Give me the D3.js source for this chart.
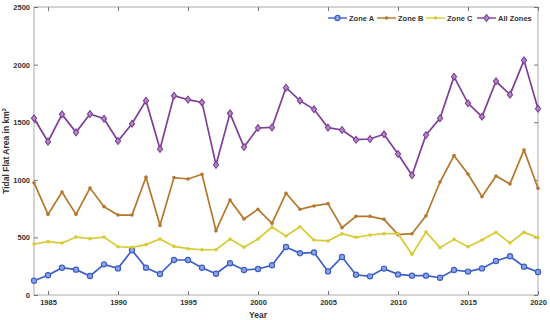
<!DOCTYPE html>
<html>
<head>
<meta charset="utf-8">
<script src="https://cdn.jsdelivr.net/npm/d3@7"></script>
<style>
  body { margin: 0; background: #fff; }
  svg text { font-family: "Liberation Sans", Arial, sans-serif; font-weight: bold; fill: #333; }
</style>
</head>
<body>
<svg id="chart" width="550" height="320"></svg>
<script>
// values, km^2
var years = d3.range(1984, 2021);
var zoneA = [124, 171, 237, 220, 165, 266, 231, 388, 237, 182, 304, 304, 237, 185, 275, 217, 226, 258,
  417, 362, 370, 205, 330, 176, 162, 229, 179, 168, 168, 150, 217, 203, 231, 295, 336, 246, 200];
var zoneB = [975, 700, 894, 700, 929, 767, 694, 694, 1022, 605, 1019, 1007, 1048, 558, 825, 660, 744, 622,
  883, 744, 773, 793, 584, 683, 683, 657, 524, 532, 688, 981, 1210, 1050, 853, 1033, 964, 1259, 926];
var zoneC = [443, 463, 451, 503, 489, 503, 419, 414, 437, 486, 422, 402, 393, 393, 486, 414, 486, 590,
  512, 593, 477, 469, 532, 501, 521, 532, 532, 353, 547, 411, 483, 419, 477, 544, 451, 544, 498];
var allZones = [1534, 1331, 1568, 1412, 1571, 1530, 1337, 1487, 1687, 1267, 1730, 1696, 1672, 1130, 1577, 1285, 1450, 1455,
  1800, 1687, 1612, 1453, 1432, 1348, 1354, 1395, 1224, 1039, 1389, 1534, 1895, 1664, 1548, 1855, 1739, 2037, 1617];
var xTicks = [1985, 1990, 1995, 2000, 2005, 2010, 2015, 2020];
var yTicks = [0, 500, 1000, 1500, 2000, 2500];

var series = [
  { name: 'Zone A', vals: zoneA, color: '#3c5fc6', marker: 'circle' },
  { name: 'Zone B', vals: zoneB, color: '#b5772c', marker: 'dot' },
  { name: 'Zone C', vals: zoneC, color: '#d8cb36', marker: 'dot' },
  { name: 'All Zones', vals: allZones, color: '#7e3f98', marker: 'diamond' }
];

var margin = { top: 7, right: 12, bottom: 25, left: 34 };
var svg = d3.select('#chart');
var width = 550 - margin.left - margin.right;
var height = 320 - margin.top - margin.bottom;

var x = d3.scaleLinear().domain([1984, 2020]).range([0, width]);
var y = d3.scaleLinear().domain([0, 2500]).range([height, 0]);

var g = svg.append('g')
  .attr('transform', 'translate(' + margin.left + ',' + margin.top + ')');

// box
g.append('rect')
  .attr('width', width).attr('height', height)
  .attr('fill', 'none').attr('stroke', '#aaa').attr('stroke-width', 1);

function styleAxis(sel) {
  sel.select('.domain').remove();
  sel.selectAll('line').attr('stroke', '#777');
  sel.selectAll('text').attr('font-size', 7.5).style('fill', '#333');
}

g.append('g')
  .attr('transform', 'translate(0,' + height + ')')
  .call(d3.axisBottom(x).tickValues(xTicks).tickFormat(d3.format('d')).tickSizeInner(-4).tickPadding(5))
  .call(styleAxis);
g.append('g')
  .call(d3.axisTop(x).tickValues(xTicks).tickFormat('').tickSizeInner(-4))
  .call(styleAxis);
g.append('g')
  .call(d3.axisLeft(y).tickValues(yTicks).tickFormat(d3.format('d')).tickSizeInner(-4).tickPadding(4))
  .call(styleAxis);
g.append('g')
  .attr('transform', 'translate(' + width + ',0)')
  .call(d3.axisRight(y).tickValues(yTicks).tickFormat('').tickSizeInner(-4))
  .call(styleAxis);

var line = d3.line()
  .x(function(d, i) { return x(years[i]); })
  .y(function(d) { return y(d); });

function drawMarker(sel, s, cx, cy) {
  if (s.marker === 'circle') {
    sel.append('circle').attr('cx', cx).attr('cy', cy).attr('r', 2.6)
      .attr('fill', '#8fa4e4').attr('stroke', s.color).attr('stroke-width', 1.2);
  } else if (s.marker === 'diamond') {
    sel.append('path')
      .attr('d', 'M' + cx + ',' + (cy - 3.4) + 'L' + (cx + 2.6) + ',' + cy + 'L' + cx + ',' + (cy + 3.4) + 'L' + (cx - 2.6) + ',' + cy + 'Z')
      .attr('fill', '#b48ac4').attr('stroke', s.color).attr('stroke-width', 1.1);
  } else {
    sel.append('circle').attr('cx', cx).attr('cy', cy).attr('r', 1.8).attr('fill', s.color);
  }
}

series.forEach(function(s) {
  var sg = g.append('g');
  sg.append('path')
    .datum(s.vals)
    .attr('d', line)
    .attr('fill', 'none')
    .attr('stroke', s.color)
    .attr('stroke-width', 1.7);
  s.vals.forEach(function(v, i) {
    drawMarker(sg, s, x(years[i]), y(v));
  });
});

// legend
var legendX = [294, 343, 392, 443];
var lg = g.append('g').attr('transform', 'translate(0,11)');
series.forEach(function(s, i) {
  var lx = legendX[i];
  lg.append('line').attr('x1', lx).attr('x2', lx + 19).attr('y1', 0).attr('y2', 0)
    .attr('stroke', s.color).attr('stroke-width', 1.4);
  drawMarker(lg, s, lx + 9.5, 0);
  lg.append('text').attr('x', lx + 21).attr('y', 2.7).attr('font-size', 7.5).text(s.name);
});

// axis titles
svg.append('text')
  .attr('x', margin.left + x(2000)).attr('y', 318)
  .attr('text-anchor', 'middle').attr('font-size', 8.5).text('Year');

var yt = svg.append('text')
  .attr('transform', 'translate(9,' + (margin.top + height / 2) + ') rotate(-90)')
  .attr('text-anchor', 'middle').attr('font-size', 8.5);
yt.append('tspan').text('Tidal Flat Area in km');
yt.append('tspan').attr('dy', -3).attr('font-size', 5.5).text('2');
</script>
</body>
</html>
